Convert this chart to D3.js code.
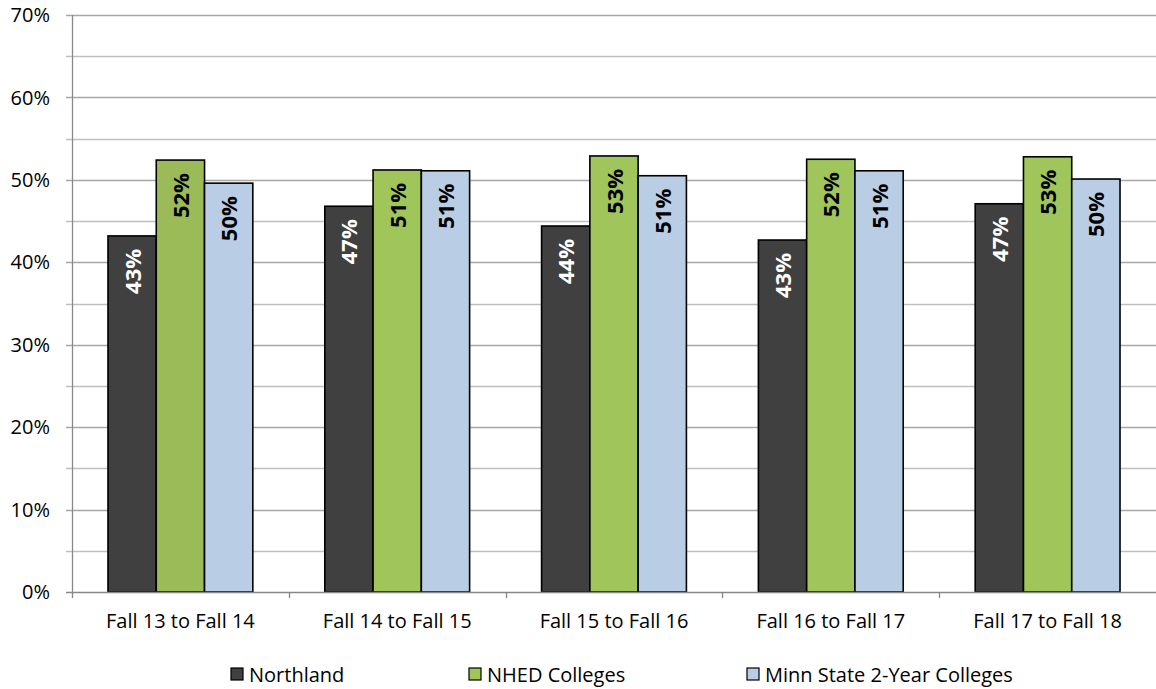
<!DOCTYPE html>
<html><head><meta charset="utf-8">
<script src="https://cdn.jsdelivr.net/npm/d3@7"></script>
<style>body{margin:0;background:#fff}svg{display:block}</style>
</head><body>
<svg id="c" width="1156" height="689"></svg>
<script>
const categories = ["Fall 13 to Fall 14","Fall 14 to Fall 15","Fall 15 to Fall 16","Fall 16 to Fall 17","Fall 17 to Fall 18"];
const seriesNames = ["Northland","NHED Colleges","Minn State 2-Year Colleges"];
const northland = [0.432, 0.468, 0.444, 0.427, 0.471];
const nhed = [0.524, 0.512, 0.529, 0.525, 0.528];
const minnState = [0.496, 0.511, 0.505, 0.511, 0.501];
const labels = [["43%","47%","44%","43%","47%"],["52%","51%","53%","52%","53%"],["50%","51%","51%","51%","50%"]];
const seriesColors = ["#404040","#A0C55A","#B9CDE5"];
const firstNhedColor = "#9BBB59";
const labelColors = ["#fff","#000","#000"];
const yTicks = [0,0.1,0.2,0.3,0.4,0.5,0.6,0.7];
const yMinor = [0.05,0.15,0.25,0.35,0.45,0.55,0.65];

const series = [northland, nhed, minnState];
const svg = d3.select("#c");
const font = "'Open Sans', 'Liberation Sans', Arial, sans-serif";
const L = 72, R = 1156, T = 15, B = 592;
const x = d3.scaleBand().domain(categories).range([L, R]).paddingInner(0).paddingOuter(0);
const y = d3.scaleLinear().domain([0, 0.7]).range([B, T]);
const gw = x.bandwidth();
const pad = gw * 0.166;
const xs = d3.scaleBand().domain([0,1,2]).range([pad, gw - pad]).padding(0);

// gridlines
svg.append("g").selectAll("line").data(yMinor).join("line")
  .attr("x1", L - 6).attr("x2", R).attr("y1", d => Math.round(y(d)) + 0.5).attr("y2", d => Math.round(y(d)) + 0.5)
  .attr("stroke", "#BFBFBF").attr("stroke-width", 1.3);
svg.append("g").selectAll("line").data(yTicks.slice(1)).join("line")
  .attr("x1", L - 6).attr("x2", R).attr("y1", d => Math.round(y(d)) + 0.5).attr("y2", d => Math.round(y(d)) + 0.5)
  .attr("stroke", "#A6A6A6").attr("stroke-width", 1.3);

// y labels
svg.append("g").selectAll("text").data(yTicks).join("text")
  .attr("x", 50).attr("y", d => y(d)).attr("dy", "0.36em").attr("text-anchor", "end")
  .attr("font-family", font).attr("font-size", 20).attr("fill", "#000")
  .text(d => d3.format(".0%")(d));

// bars
const bg = svg.append("g");
series.forEach((vals, si) => {
  bg.selectAll(null).data(vals).join("rect")
    .attr("x", (d, i) => x(categories[i]) + xs(si))
    .attr("y", d => y(d))
    .attr("width", xs.bandwidth())
    .attr("height", d => B - y(d))
    .attr("fill", (d, i) => (si === 1 && i === 0) ? firstNhedColor : seriesColors[si])
    .attr("stroke", "#000").attr("stroke-width", 1.6);
  bg.selectAll(null).data(vals).join("text")
    .attr("transform", (d, i) => `translate(${x(categories[i]) + xs(si) + xs.bandwidth()/2 + 8.5},${y(d) + 13}) rotate(-90)`)
    .attr("text-anchor", "end")
    .attr("font-family", font).attr("font-size", 22).attr("font-weight", "bold")
    .attr("fill", labelColors[si])
    .text((d, i) => labels[si][i]);
});

// axes
svg.append("line").attr("x1", L + 0.5).attr("x2", L + 0.5).attr("y1", T).attr("y2", B).attr("stroke", "#888").attr("stroke-width", 1.3);
svg.append("line").attr("x1", L - 6).attr("x2", R).attr("y1", B + 0.5).attr("y2", B + 0.5).attr("stroke", "#888").attr("stroke-width", 1.3);
const bounds = categories.map(c => x(c));
svg.append("g").selectAll("line").data(bounds).join("line")
  .attr("x1", d => Math.round(d) + 0.5).attr("x2", d => Math.round(d) + 0.5).attr("y1", B).attr("y2", B + 6)
  .attr("stroke", "#888").attr("stroke-width", 1.3);

// x labels
svg.append("g").selectAll("text").data(categories).join("text")
  .attr("x", d => x(d) + gw / 2).attr("y", 628).attr("text-anchor", "middle")
  .attr("font-family", font).attr("font-size", 20).attr("fill", "#000")
  .text(d => d);

// legend
const legX = [231, 469, 747];
const lg = svg.append("g");
seriesNames.forEach((n, i) => {
  lg.append("rect").attr("x", legX[i]).attr("y", 668).attr("width", 12).attr("height", 12)
    .attr("fill", seriesColors[i]).attr("stroke", "#000").attr("stroke-width", 1.2);
  lg.append("text").attr("x", legX[i] + 18).attr("y", 682)
    .attr("font-family", font).attr("font-size", 20).attr("fill", "#000").text(n);
});
</script>
</body></html>
